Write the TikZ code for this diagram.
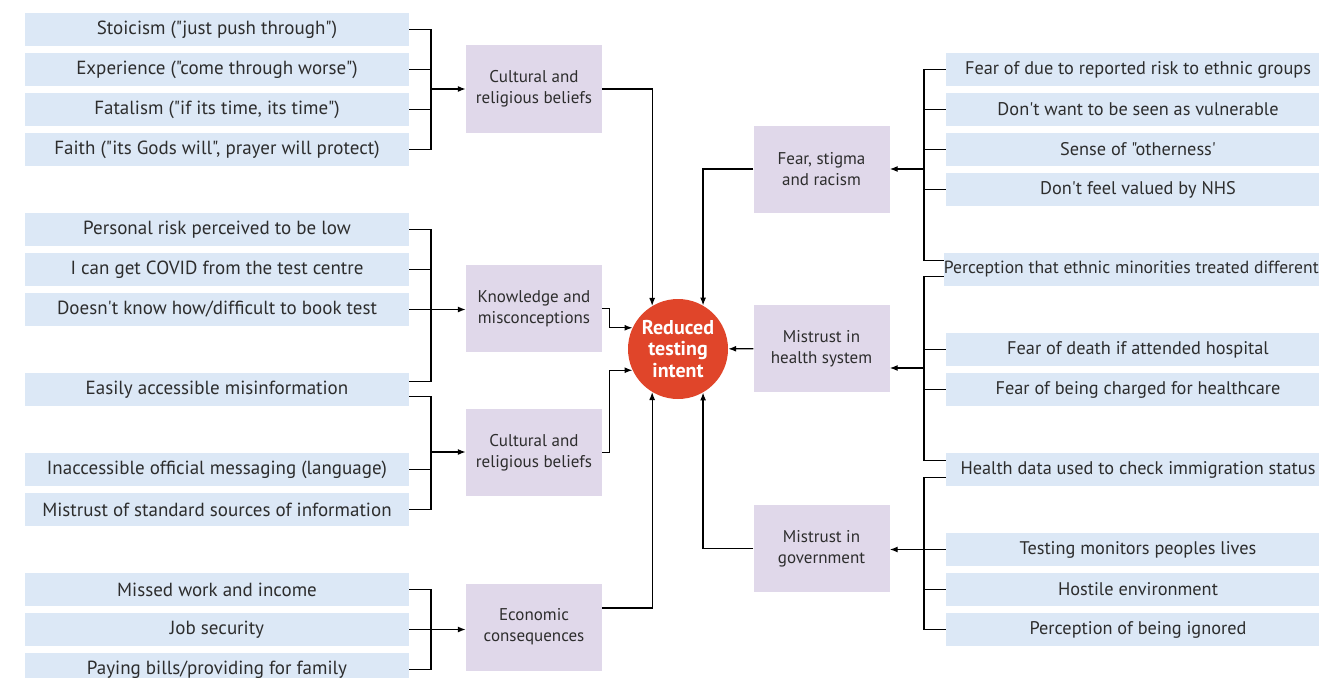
\documentclass[tikz,border=0pt]{standalone}
\usepackage{fontspec}
\newfontfamily\labelfont{PT Sans}
\usetikzlibrary{arrows.meta}
\definecolor{factorblue}{RGB}{220,232,246}
\definecolor{causepurple}{RGB}{224,216,234}
\definecolor{intentred}{RGB}{224,69,42}
\definecolor{inkgrey}{RGB}{45,45,45}
\begin{document}
\begin{tikzpicture}[x=1pt,y=-1pt,
  factor/.style={fill=factorblue,minimum width=384pt,minimum height=33pt,inner sep=0pt,
    text=inkgrey,font=\labelfont\fontsize{#1}{22}\selectfont},
  factor/.default=19,
  cause/.style={fill=causepurple,minimum width=136pt,minimum height=87pt,inner sep=2pt,
    align=center,text=inkgrey,font=\labelfont\fontsize{17}{21}\selectfont},
  link/.style={line width=1.3pt},
  arr/.style={link,-{Latex[length=8pt,width=6pt]}}]
\useasboundingbox (0,0) rectangle (1319,677);
\clip (0,0) rectangle (1319,677);

% factors, left
\foreach \nm/\rw/\txt in {stoic/0/{Stoicism ("just push through")},
    exper/1/{Experience ("come through worse")},
    fatal/2/{Fatalism ("if its time, its time")},
    faith/3/{Faith ("its Gods will", prayer will protect)},
    personal/5/{Personal risk perceived to be low},
    covid/6/{I can get COVID from the test centre},
    book/7/{Doesn't know how/difficult to book test},
    misinfo/9/{Easily accessible misinformation},
    official/11/{Inaccessible official messaging (language)},
    sources/12/{Mistrust of standard sources of information},
    missed/14/{Missed work and income},
    jobsec/15/{Job security},
    bills/16/{Paying bills/providing for family}}
  \node[factor] (\nm) at (217,29.5+40*\rw) {\txt};

% factors, right
\foreach \nm/\rw/\txt in {feardue/1/{Fear of due to reported risk to ethnic groups},
    vulnerable/2/{Don't want to be seen as vulnerable},
    otherness/3/{Sense of "otherness'},
    valued/4/{Don't feel valued by NHS},
    death/8/{Fear of death if attended hospital},
    charged/9/{Fear of being charged for healthcare},
    immigration/11/{Health data used to check immigration status},
    monitors/13/{Testing monitors peoples lives},
    hostile/14/{Hostile environment},
    ignored/15/{Perception of being ignored}}
  \node[factor=18.3] (\nm) at (1138,29.5+40*\rw) {\txt};
\node[factor=17.6] (treated) at (1138,269.5) {Perception that ethnic minorities treated differently};

% causes
\node[cause] (cult1) at (534,89) {Cultural and\\religious beliefs};
\node[cause] (know) at (534,308.5) {Knowledge and\\misconceptions};
\node[cause] (cult2) at (534,452.5) {Cultural and\\religious beliefs};
\node[cause] (econ) at (534,627) {Economic\\consequences};
\node[cause] (fear) at (821.5,169) {Fear, stigma\\and racism};
\node[cause] (health) at (821.5,348.5) {Mistrust in\\health system};
\node[cause] (gov) at (821.5,548.5) {Mistrust in\\government};

\node[circle,fill=intentred,minimum size=100pt,inner sep=0pt,align=center,text=white,
  font=\labelfont\bfseries\fontsize{20}{21.5}\selectfont] (intent) at (678,349) {Reduced\\testing\\intent};

% left brackets
\coordinate (b1) at (431,89);
\draw[link] (stoic.east) -| (b1) |- (faith.east);
\foreach \nm in {exper,fatal} \draw[link] (\nm.east) -- (\nm.east -| b1);
\draw[arr] (b1) -- (b1 -| cult1.west);

\coordinate (b2) at (431,309);
\draw[link] (personal.east) -| (b2) |- ([yshift=8pt]misinfo.east);
\draw[link] (covid.east) -- (covid.east -| b2);
\draw[arr] (book.east) -- (book.east -| know.west);

\coordinate (b3) at (431,452);
\draw[link] ([yshift=-7pt]misinfo.east) -| (b3) |- (sources.east);
\draw[link] (official.east) -- (official.east -| b3);
\draw[arr] (b3) -- (b3 -| cult2.west);

\coordinate (b4) at (431,629.5);
\draw[link] (missed.east) -| (b4) |- (bills.east);
\draw[arr] (jobsec.east) -- (jobsec.east -| econ.west);

% right brackets
\coordinate (bA) at (924,169);
\draw[link] (feardue.west) -| (bA) |- ([yshift=9pt]treated.west);
\foreach \nm in {vulnerable,otherness,valued} \draw[link] (\nm.west) -- (\nm.west -| bA);
\draw[arr] (bA) -- (bA -| fear.east);

\coordinate (bB) at (924,368);
\draw[link] ([yshift=-7pt]treated.west) -| (bB) |- ([yshift=9pt]immigration.west);
\foreach \nm in {death,charged} \draw[link] (\nm.west) -- (\nm.west -| bB);
\draw[arr] (bB) -- (bB -| health.east);

\coordinate (bC) at (924,549.5);
\draw[link] ([yshift=-8pt]immigration.west) -| (bC) |- (ignored.west);
\draw[link] (hostile.west) -- (hostile.west -| bC);
\draw[arr] (monitors.west) -- (monitors.west -| gov.east);

% into the centre
\draw[arr] (cult1.east) -| (intent.121);
\draw[arr] (know.east) -- ++(7,0) |- (intent.155);
\draw[arr] (cult2.east) -- ++(7,0) |- (intent.205);
\draw[arr] ([yshift=19pt]econ.east) -| (intent.239);
\draw[arr] (fear.west) -| (intent.60);
\draw[arr] (health) -- (intent);
\draw[arr] (gov.west) -| (intent.300);
\end{tikzpicture}
\end{document}
